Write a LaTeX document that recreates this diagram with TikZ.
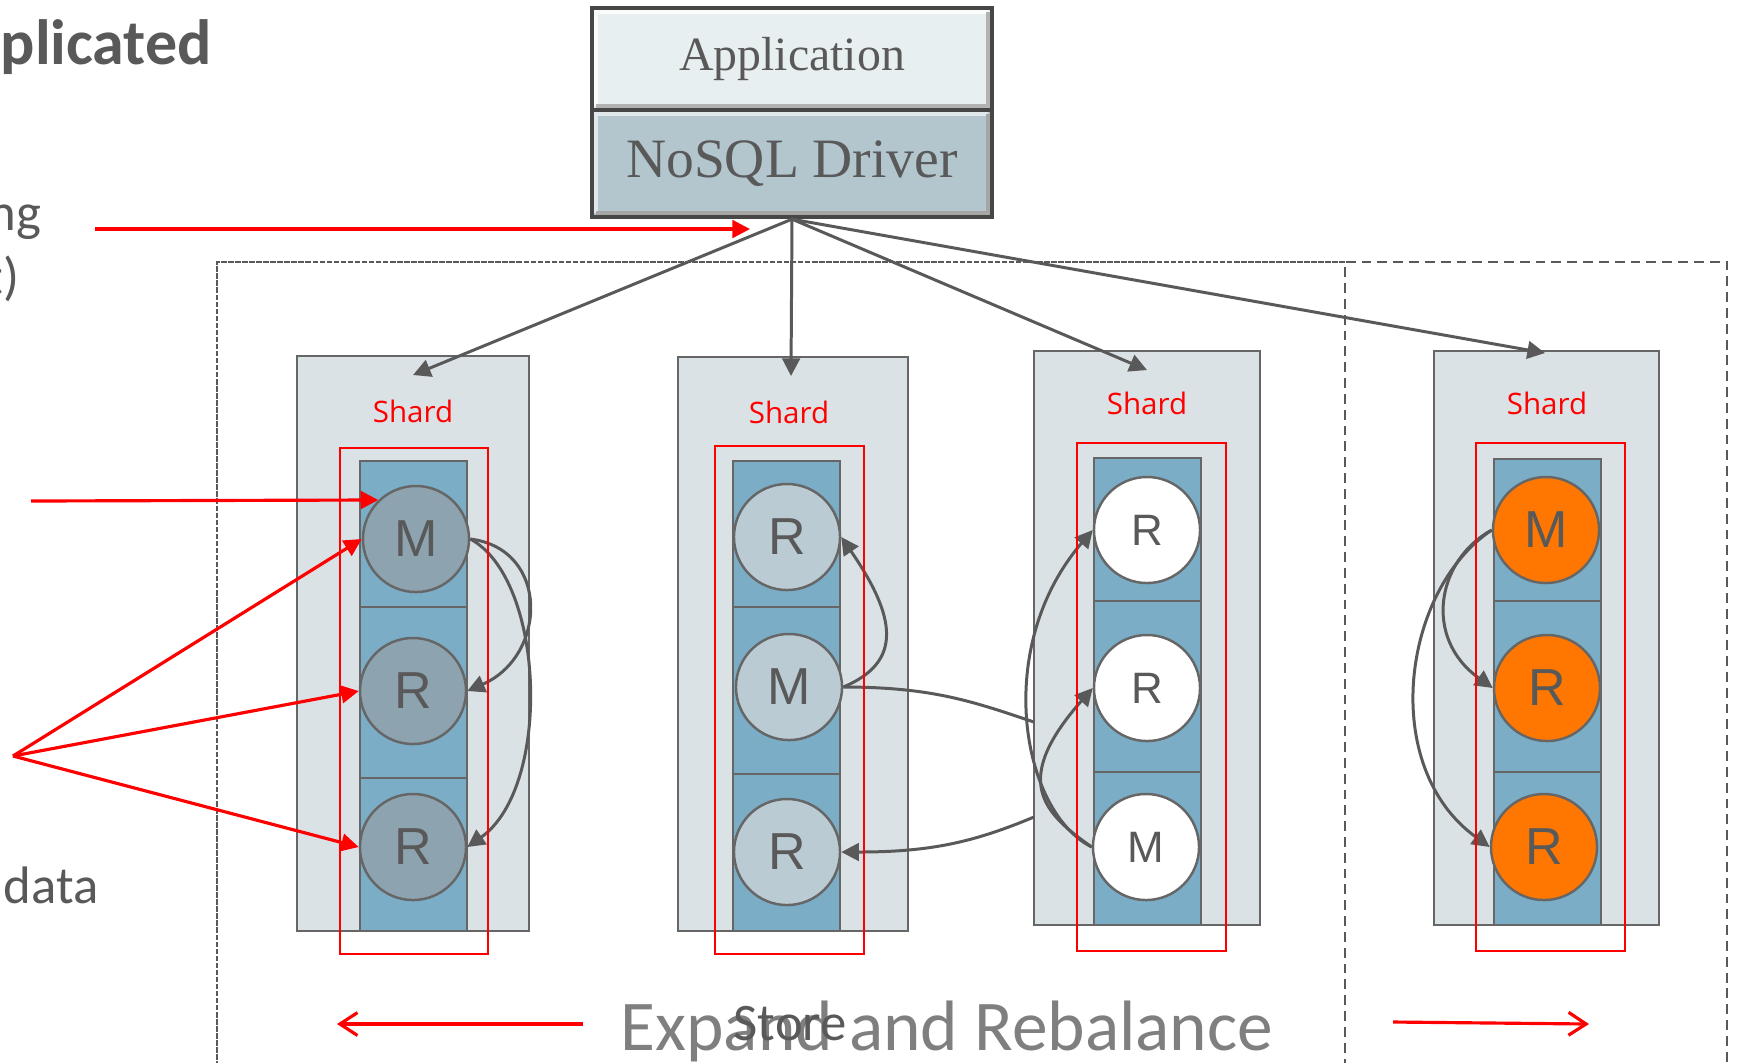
\documentclass[tikz,border=0pt]{standalone}
\usepackage{fontspec}
\setmainfont{Carlito}
\newfontfamily\appfont{Liberation Serif}
\newfontfamily\memfont{Liberation Sans}
\newfontfamily\shardfont{Open Sans}
\usetikzlibrary{arrows.meta}

\definecolor{txtgray}{HTML}{595959}
\definecolor{expgray}{HTML}{7F7F7F}
\definecolor{linegray}{HTML}{595959}
\definecolor{boxline}{HTML}{666666}
\definecolor{shardfill}{HTML}{DAE2E5}
\definecolor{colblue}{HTML}{7BADC7}
\definecolor{memA}{HTML}{8DA4B0}
\definecolor{memB}{HTML}{BBCBD3}
\definecolor{memD}{HTML}{FF7700}
\definecolor{appfill}{HTML}{E8EFF1}
\definecolor{drvfill}{HTML}{B3C6CE}

\begin{document}
\begin{tikzpicture}[x=0.01cm,y=-0.01cm]
\tikzset{link/.style = {draw=linegray, line width=0.85pt, -{Triangle[length=5pt,width=5pt]}}}
\tikzset{redlink/.style = {draw=red, line width=0.9pt, -{Triangle[length=5pt,width=5pt]}}}
\tikzset{redbarb/.style = {draw=red, line width=0.9pt, -{Straight Barb[length=5pt,width=6.5pt]}}}
\tikzset{member/.style = {shape=circle, draw=boxline, line width=0.7pt, minimum size=1.06cm, inner sep=0pt, text=txtgray, font=\memfont\fontsize{14.8}{16}\selectfont}}
\tikzset{shardlabel/.style = {text=red, font=\shardfont\fontsize{8.4}{10}\selectfont}}
\tikzset{shardbox/.style = {fill=shardfill, draw=boxline, line width=0.75pt}}
\tikzset{column/.style = {fill=colblue, draw=boxline, line width=0.75pt}}
\tikzset{redframe/.style = {draw=red, line width=0.75pt}}
\tikzset{sidetext/.style = {text=txtgray, inner sep=0pt, font=\fontsize{15}{18}\selectfont}}
\tikzset{layer/.style = {draw=black!72, line width=1.2pt, text=txtgray, minimum width=4cm, inner sep=0pt}}

\useasboundingbox (0,0) rectangle (1742,1062);
\clip (0,0) rectangle (1742,1062);

% cut off slide text on the left
\node[sidetext, anchor=base west, font=\bfseries\fontsize{18.2}{21}\selectfont] (title) at (0,64) {plicated};
\node[sidetext, anchor=base east] (ng) at (42,230) {ng};
\node[sidetext, anchor=base east] (paren) at (20,294) {t)};
\node[sidetext, anchor=base west] (data) at (3,903) {data};

% store outline
\draw[linegray, line width=0.7pt, dash pattern=on 1.6pt off 0.4pt] (1345,262) -- (217,262) -- (217,1100);
\draw[linegray, line width=0.7pt, dash pattern=on 2.8pt off 1.7pt] (1345,1100) -- (1345,262) -- (1727,262) -- (1727,1100);

% application and driver
\node[layer, fill=appfill, minimum height=1.02cm, font=\appfont\fontsize{13.6}{16}\selectfont] (app) at (792,59) {Application};
\node[layer, fill=drvfill, minimum height=1.07cm, font=\appfont\fontsize{15.8}{18}\selectfont] (drv) at (792,163.5) {NoSQL Driver};
\draw[line width=1.2pt, white!80!appfill] ([shift={(6,-6)}]app.south west) |- ([shift={(-6,6)}]app.north east);
\draw[line width=1.2pt, black!30] ([shift={(6,-6)}]app.south west) -| ([shift={(-6,6)}]app.north east);
\draw[line width=1.2pt, white!60!drvfill] ([shift={(6,-6)}]drv.south west) |- ([shift={(-6,6)}]drv.north east);
\draw[line width=1.2pt, black!35] ([shift={(6,-6)}]drv.south west) -| ([shift={(-6,6)}]drv.north east);

% shard 1
\filldraw[shardbox] (297,356) rectangle (529,931);
\filldraw[column] (360,461) rectangle (467,931);
\draw[boxline, line width=0.75pt] (360,607) -- (467,607) (360,778) -- (467,778);
\node[shardlabel] (lab1) at (413,411) {Shard};
\node[member, fill=memA] (s1m) at (416,539) {M};
\node[member, fill=memA] (s1r) at (413,691) {R};
\node[member, fill=memA] (s1q) at (413,847) {R};

% shard 2
\filldraw[shardbox] (678,357) rectangle (908,931);
\filldraw[column] (733,461) rectangle (840,931);
\draw[boxline, line width=0.75pt] (733,607) -- (840,607) (733,774) -- (840,774);
\node[shardlabel] (lab2) at (789,412) {Shard};
\node[member, fill=memB] (s2r) at (787,537) {R};
\node[member, fill=memB] (s2m) at (789,687) {M};
\node[member, fill=memB] (s2q) at (787,852) {R};

% shard 3
\filldraw[shardbox] (1034,351) rectangle (1260,925);
\filldraw[column] (1094,458) rectangle (1201,925);
\draw[boxline, line width=0.75pt] (1094,601) -- (1201,601) (1094,772) -- (1201,772);
\node[shardlabel] (lab3) at (1147,403) {Shard};
\node[member, fill=white, font=\memfont\fontsize{12.5}{14}\selectfont] (s3r) at (1147,530) {R};
\node[member, fill=white, font=\memfont\fontsize{12.5}{14}\selectfont] (s3q) at (1147,688) {R};
\node[member, fill=white, font=\memfont\fontsize{12.5}{14}\selectfont] (s3m) at (1146,847) {M};

% shard 4
\filldraw[shardbox] (1434,351) rectangle (1659,925);
\filldraw[column] (1494,459) rectangle (1601,925);
\draw[boxline, line width=0.75pt] (1494,601) -- (1601,601) (1494,772) -- (1601,772);
\node[shardlabel] (lab4) at (1547,403) {Shard};
\node[member, fill=memD] (s4m) at (1546,530) {M};
\node[member, fill=memD] (s4r) at (1547,688) {R};
\node[member, fill=memD] (s4q) at (1544,847) {R};

% driver to shards
\coordinate (s1in) at (413,375);
\coordinate (s2in) at (791,376);
\coordinate (s3in) at (1147,370);
\coordinate (s4in) at (1545,353);
\draw[link] (drv.south) -- (s1in);
\draw[link] (drv.south) -- (s2in);
\draw[link] (drv.south) -- (s3in);
\draw[link] (drv.south) -- (s4in);

% replication
\draw[link] (s1m.east) .. controls +(80,10) and +(80,-35) .. (s1r.east);
\draw[link] (s1m.east) .. controls +(75,40) and +(85,-60) .. (s1q.east);
\draw[link] (s2m.east) .. controls +(60,-25) and +(55,80) .. (s2r.east);
\draw[link] (s3m.west) .. controls +(-70,-35) and +(-101,118) .. (s3r.west);
\draw[link] (s3m.west) .. controls +(-50,-35) and +(-81,92) .. (s3q.west);
\draw[link] (s4m.west) .. controls +(-55,30) and +(-70,-50) .. (s4r.west);
\draw[link] (s4m.west) .. controls +(-90,60) and +(-111,-80) .. (s4q.west);

% rebalancing between shard 2 and 3
\coordinate (migin) at (1034,722);
\coordinate (migout) at (1034,817);
\draw[linegray, line width=0.85pt] (s2m.east) .. controls +(90,0) and +(-60,-20) .. (migin);
\draw[link] (migout) .. controls +(-60,25) and +(90,0) .. (s2q.east);

% red frames
\draw[redframe] (340,448) rectangle (488,954);
\draw[redframe] (715,446) rectangle (864,954);
\draw[redframe] (1077,443) rectangle (1226,951);
\draw[redframe] (1476,443) rectangle (1625,951);

% red pointers
\coordinate (ptrdrv) at (95,229);
\coordinate (ptrdrvend) at (750,229);
\draw[redlink] (ptrdrv) -- (ptrdrvend);
\coordinate (ptrm) at (31,501);
\draw[redlink] (ptrm) -- (s1m.134);
\coordinate (fan) at (13,756);
\draw[redlink] (fan) -- (s1m.west);
\draw[redlink] (fan) -- (s1r.west);
\draw[redlink] (fan) -- (s1q.west);

% bottom
\node[anchor=base west, inner sep=0pt, text=expgray, font=\fontsize{20.3}{24}\selectfont] (expand) at (620,1050) {Expand and Rebalance};
\node[anchor=base west, inner sep=0pt, text=txtgray, font=\fontsize{15}{18}\selectfont] (store) at (733,1040) {Store};
\coordinate (exl) at (583,1024);
\coordinate (exlend) at (337,1024);
\coordinate (exr) at (1393,1022);
\coordinate (exrend) at (1589,1024);
\draw[redbarb] (exl) -- (exlend);
\draw[redbarb] (exr) -- (exrend);
\end{tikzpicture}
\end{document}
